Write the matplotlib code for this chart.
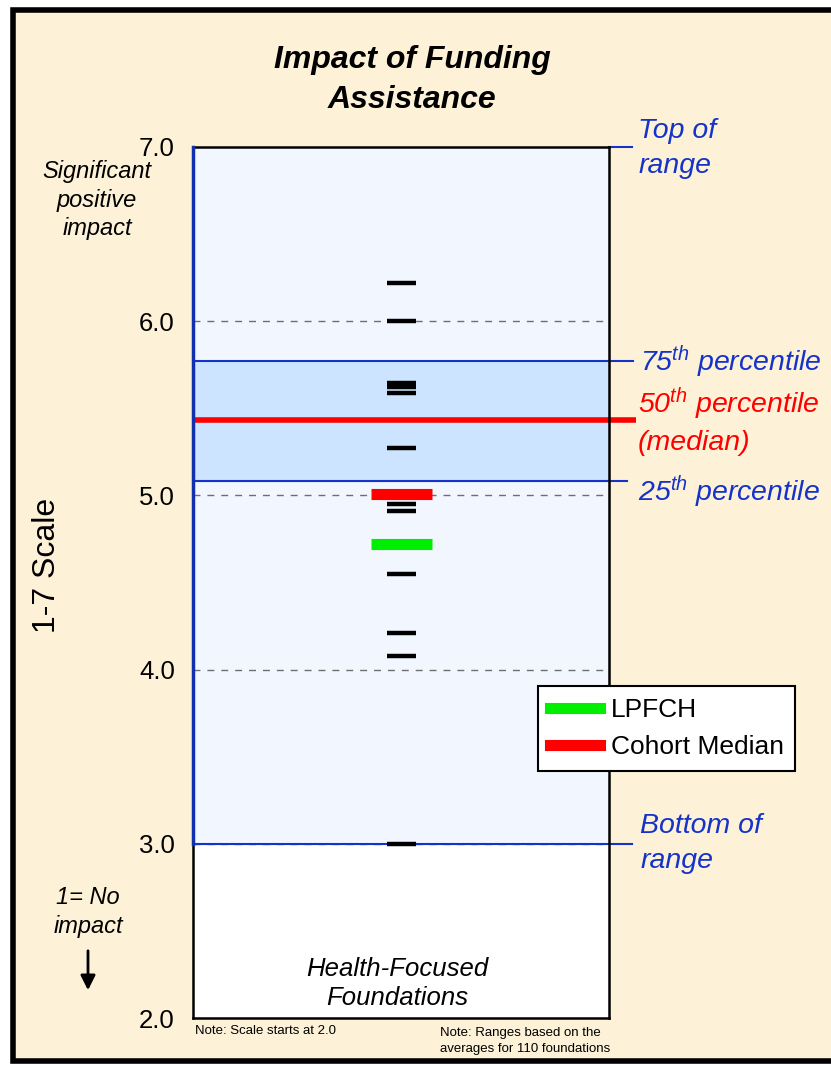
import matplotlib
matplotlib.use("Agg")
import matplotlib.pyplot as plt
from matplotlib.patches import Rectangle
from matplotlib.lines import Line2D

plt.rcParams['font.family'] = ['Liberation Sans', 'DejaVu Sans']
plt.rcParams['mathtext.fontset'] = 'custom'
plt.rcParams['mathtext.it'] = 'Liberation Sans:italic'
plt.rcParams['mathtext.rm'] = 'Liberation Sans:italic'

# data (1-7 scale)
foundation_scores = [6.22, 6.00, 5.645, 5.625, 5.59, 5.27, 4.95, 4.91, 4.55, 4.21, 4.08, 3.00]
lpfch_score = 4.72
cohort_median = 5.01
range_top = 7.0
range_bottom = 3.0
p25 = 5.08
p50 = 5.43
p75 = 5.77
yticks = [2.0, 3.0, 4.0, 5.0, 6.0, 7.0]
grid_vals = [3.0, 4.0, 5.0, 6.0]

W, H = 831, 1065
BLUE = '#1533C8'
RED = '#FF0000'
GREEN = '#00EE00'


def fx(px):
    return px / W


def fy(py):
    return 1 - py / H


fig = plt.figure(figsize=(W / 100, H / 100), dpi=100, facecolor='white')

# cream panel with thick black frame
fig.patches.append(Rectangle((fx(13), fy(1061)), 1.0, fy(10) - fy(1061),
                             transform=fig.transFigure, facecolor='#FDF2D8',
                             edgecolor='black', linewidth=4, zorder=-5))

ax = fig.add_axes([fx(193), fy(1018), fx(609) - fx(193), fy(147) - fy(1018)])
ax.set_zorder(1)
ax.set_facecolor('white')
ax.set_xlim(0, 1)
ax.set_ylim(2, 7)

# shaded range and inter-quartile band
ax.axhspan(range_bottom, range_top, color='#F2F7FF', zorder=0)
ax.axhspan(p25, p75, color='#CCE4FF', zorder=0.5)

# dashed grid
ax.hlines(grid_vals, 0, 1, colors='#6E6E6E', linestyles=(0, (5, 5)), linewidth=1, zorder=1)

# reference lines extending past the right edge
tr = ax.get_yaxis_transform()
ax.plot([1.0, 1.055], [range_top, range_top], color=BLUE, lw=1.5, transform=tr, clip_on=False, zorder=3)
ax.plot([0, 1.058], [p75, p75], color=BLUE, lw=1.5, transform=tr, clip_on=False, zorder=3)
ax.plot([0, 1.064], [p50, p50], color=RED, lw=4, transform=tr, clip_on=False, zorder=3,
        solid_capstyle='butt')
ax.plot([0, 1.043], [p25, p25], color=BLUE, lw=1.5, transform=tr, clip_on=False, zorder=3)
ax.plot([0, 1.055], [range_bottom, range_bottom], color=BLUE, lw=1.5, transform=tr, clip_on=False, zorder=3)
ax.plot([0, 0], [range_bottom, range_top], color='#1030B0', lw=2.5, transform=tr, clip_on=False, zorder=4)

# foundation marks
ax.hlines(foundation_scores, 0.467, 0.537, colors='black', linewidth=3.2, zorder=5)
ax.hlines([cohort_median], 0.427, 0.575, colors=RED, linewidth=8, zorder=5)
ax.hlines([lpfch_score], 0.427, 0.575, colors=GREEN, linewidth=8, zorder=5)

for s in ax.spines.values():
    s.set_linewidth(1.8)
    s.set_color('black')
    s.set_zorder(3.5)

ax.set_xticks([])
ax.set_yticks(yticks)
ax.set_yticklabels([f'{v:.1f}' for v in yticks], fontsize=18.5)
ax.tick_params(axis='y', length=0, pad=13)

# right-hand labels
lab = dict(transform=tr, fontsize=20.5, style='italic', va='center', ha='left', clip_on=False)
ax.text(1.07, range_top - 0.01, 'Top of\nrange', color=BLUE, linespacing=1.45, **lab)
ax.text(1.075, p75, r'75$^{th}$ percentile', color=BLUE, **lab)
ax.text(1.07, p50, '50$^{th}$ percentile\n(median)', color=RED, linespacing=1.4, **lab)
ax.text(1.07, p25 - 0.06, r'25$^{th}$ percentile', color=BLUE, **lab)
ax.text(1.075, range_bottom, 'Bottom of\nrange', color=BLUE, linespacing=1.45, **lab)

# legend
handles = [Line2D([], [], color=GREEN, lw=8), Line2D([], [], color=RED, lw=8)]
leg = fig.legend(handles, ['LPFCH', 'Cohort Median'], loc='upper left',
                 bbox_to_anchor=(fx(538), fy(686)), fontsize=19, frameon=True,
                 fancybox=False, edgecolor='black', framealpha=1,
                 handlelength=1.9, handletextpad=0.4, borderpad=0.45,
                 labelspacing=0.5, borderaxespad=0)
leg.get_frame().set_linewidth(1.5)
leg.set_zorder(10)

# titles and side notes
fig.text(fx(412), fy(80), 'Impact of Funding\nAssistance', ha='center', va='center',
         fontsize=23, weight='bold', style='italic', linespacing=1.45)
fig.text(fx(47), fy(565), '1-7 Scale', rotation=90, ha='center', va='center', fontsize=23)
fig.text(fx(97), fy(200), 'Significant\npositive\nimpact', ha='center', va='center',
         fontsize=17, style='italic', linespacing=1.3)
fig.text(fx(88), fy(912), '1= No\nimpact', ha='center', va='center',
         fontsize=17, style='italic', linespacing=1.3)
fig.add_artist(plt.Annotation('', xy=(fx(88), fy(993)), xytext=(fx(88), fy(948)),
                              xycoords='figure fraction', textcoords='figure fraction',
                              arrowprops=dict(arrowstyle='-|>', color='black', lw=2,
                                              mutation_scale=22)))
ax.text(0.49, 0.04, 'Health-Focused\nFoundations', transform=ax.transAxes,
        ha='center', va='center', fontsize=18.5, style='italic', linespacing=1.25)
fig.text(fx(195), fy(1031), 'Note: Scale starts at 2.0', ha='left', va='center', fontsize=9.5)
fig.text(fx(440), fy(1041), 'Note: Ranges based on the\naverages for 110 foundations',
         ha='left', va='center', fontsize=9.5, linespacing=1.45)

fig.savefig('out.png', dpi=100, facecolor=fig.get_facecolor())
